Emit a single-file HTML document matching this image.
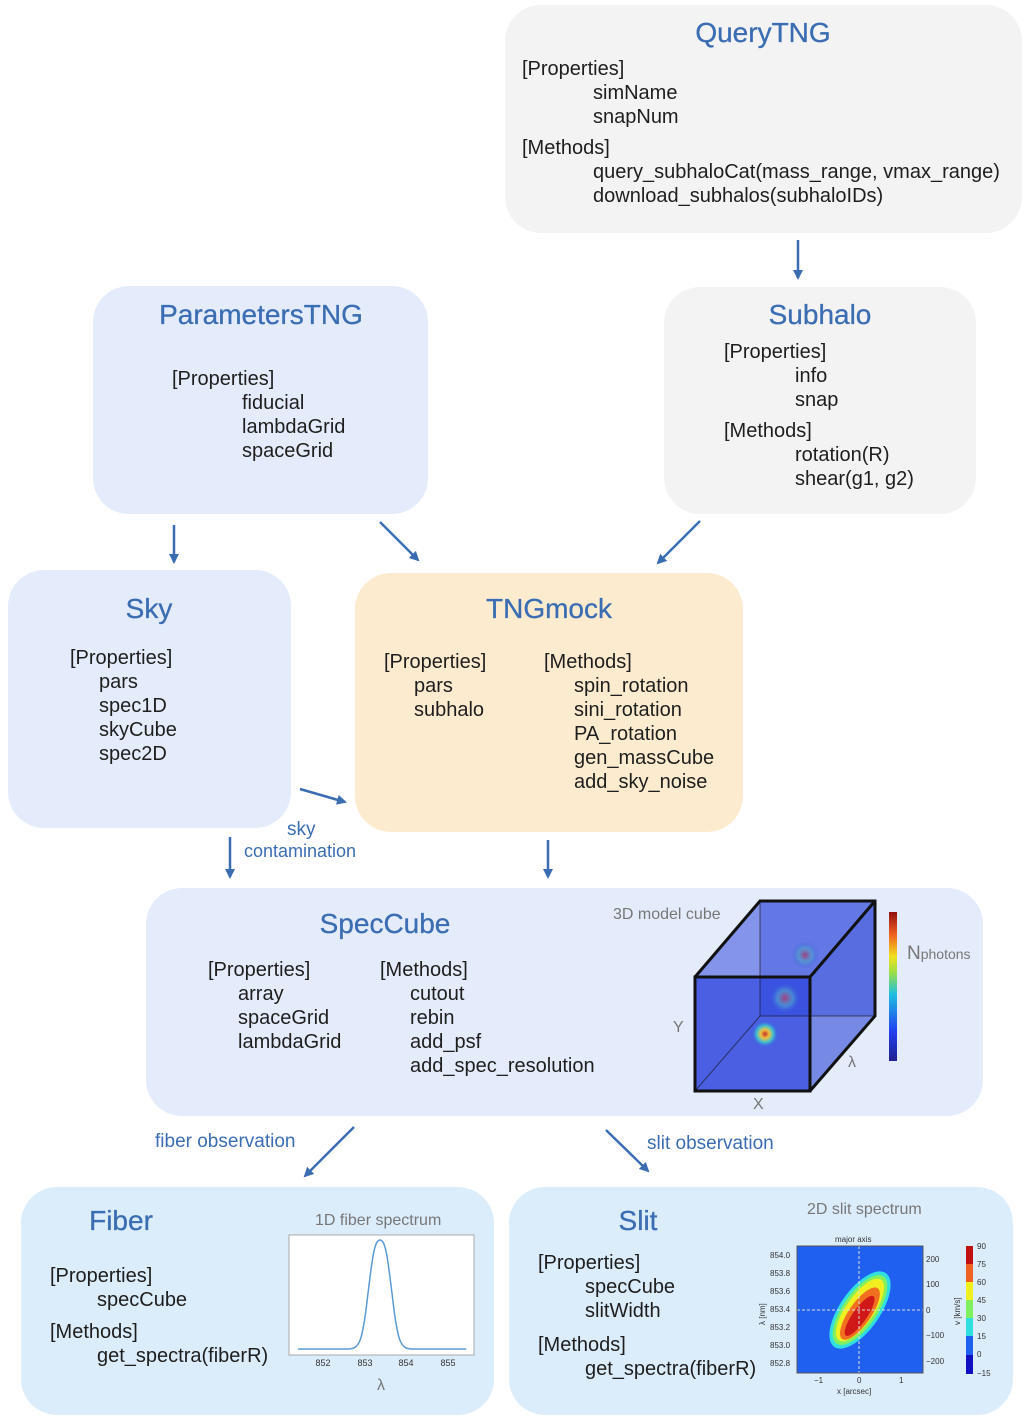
<!DOCTYPE html>
<html><head><meta charset="utf-8"><style>
body{margin:0;width:1027px;height:1421px;background:#fff;position:relative;font-family:"Liberation Sans",sans-serif;overflow:hidden}
.b{position:absolute;border-radius:36px}
.g{background:#f3f3f3}.bl{background:#e4ecfb}.o{background:#fdebcf}.c{background:#dbecfb}
.t{position:absolute;color:#3b6db3;font-size:28px;white-space:nowrap;transform:translateX(-50%);-webkit-text-stroke:0.3px #3b6db3}
.x{position:absolute;color:#1e1e1e;font-size:20px;line-height:24px;white-space:pre}
.l{position:absolute;color:#3b6db3;font-size:19px;white-space:nowrap}
.gy{position:absolute;color:#777;font-size:16px;white-space:nowrap}
svg{position:absolute;left:0;top:0}
</style></head><body>
<div class="b g" style="left:505px;top:5px;width:517px;height:228px"></div>
<div class="b bl" style="left:93px;top:286px;width:335px;height:228px"></div>
<div class="b g" style="left:664px;top:287px;width:312px;height:227px"></div>
<div class="b bl" style="left:8px;top:570px;width:283px;height:258px"></div>
<div class="b o" style="left:355px;top:573px;width:388px;height:259px"></div>
<div class="b bl" style="left:146px;top:888px;width:837px;height:228px"></div>
<div class="b c" style="left:21px;top:1187px;width:473px;height:228px"></div>
<div class="b c" style="left:509px;top:1187px;width:504px;height:228px"></div>

<div class="t" style="left:763px;top:17px">QueryTNG</div>
<div class="x" style="left:522px;top:57px">[Properties]</div>
<div class="x" style="left:593px;top:81px">simName
snapNum</div>
<div class="x" style="left:522px;top:136px">[Methods]</div>
<div class="x" style="left:593px;top:160px">query_subhaloCat(mass_range, vmax_range)
download_subhalos(subhaloIDs)</div>

<div class="t" style="left:261px;top:299px">ParametersTNG</div>
<div class="x" style="left:172px;top:367px">[Properties]</div>
<div class="x" style="left:242px;top:391px">fiducial
lambdaGrid
spaceGrid</div>

<div class="t" style="left:820px;top:299px">Subhalo</div>
<div class="x" style="left:724px;top:340px">[Properties]</div>
<div class="x" style="left:795px;top:364px">info
snap</div>
<div class="x" style="left:724px;top:419px">[Methods]</div>
<div class="x" style="left:795px;top:443px">rotation(R)
shear(g1, g2)</div>

<div class="t" style="left:149px;top:593px">Sky</div>
<div class="x" style="left:70px;top:646px">[Properties]</div>
<div class="x" style="left:99px;top:670px">pars
spec1D
skyCube
spec2D</div>

<div class="t" style="left:549px;top:593px">TNGmock</div>
<div class="x" style="left:384px;top:650px">[Properties]</div>
<div class="x" style="left:414px;top:674px">pars
subhalo</div>
<div class="x" style="left:544px;top:650px">[Methods]</div>
<div class="x" style="left:574px;top:674px">spin_rotation
sini_rotation
PA_rotation
gen_massCube
add_sky_noise</div>

<div class="l" style="left:287px;top:819px">sky</div>
<div class="l" style="left:244px;top:841px;font-size:18px">contamination</div>

<div class="t" style="left:385px;top:908px">SpecCube</div>
<div class="x" style="left:208px;top:958px">[Properties]</div>
<div class="x" style="left:238px;top:982px">array
spaceGrid
lambdaGrid</div>
<div class="x" style="left:380px;top:958px">[Methods]</div>
<div class="x" style="left:410px;top:982px">cutout
rebin
add_psf
add_spec_resolution</div>
<div class="gy" style="left:613px;top:906px">3D model cube</div>
<div class="gy" style="left:673px;top:1019px">Y</div>
<div class="gy" style="left:753px;top:1096px">X</div>
<div class="gy" style="left:848px;top:1054px">λ</div>
<div class="gy" style="left:907px;top:943px;font-size:19px">N<span style="font-size:14px">photons</span></div>

<div class="l" style="left:155px;top:1131px">fiber observation</div>
<div class="l" style="left:647px;top:1133px">slit observation</div>

<div class="t" style="left:121px;top:1205px">Fiber</div>
<div class="x" style="left:50px;top:1264px">[Properties]</div>
<div class="x" style="left:97px;top:1288px">specCube</div>
<div class="x" style="left:50px;top:1320px">[Methods]</div>
<div class="x" style="left:97px;top:1344px">get_spectra(fiberR)</div>
<div class="gy" style="left:315px;top:1212px">1D fiber spectrum</div>
<div class="gy" style="left:377px;top:1377px">λ</div>

<div class="t" style="left:638px;top:1205px">Slit</div>
<div class="x" style="left:538px;top:1251px">[Properties]</div>
<div class="x" style="left:585px;top:1275px">specCube
slitWidth</div>
<div class="x" style="left:538px;top:1333px">[Methods]</div>
<div class="x" style="left:585px;top:1357px">get_spectra(fiberR)</div>
<div class="gy" style="left:807px;top:1201px">2D slit spectrum</div>

<svg width="1027" height="1421" viewBox="0 0 1027 1421">
<defs>
<marker id="a" markerWidth="10" markerHeight="10" refX="8" refY="5" orient="auto" markerUnits="userSpaceOnUse"><path d="M0,0 L10,5 L0,10 z" fill="#3b6db3"/></marker>
<radialGradient id="s1"><stop offset="0" stop-color="#c03030"/><stop offset="0.3" stop-color="#f0c040"/><stop offset="0.6" stop-color="#40c0d0"/><stop offset="1" stop-color="#3050e0" stop-opacity="0"/></radialGradient>
<radialGradient id="s2"><stop offset="0" stop-color="#a04080"/><stop offset="0.5" stop-color="#50a0d0" stop-opacity="0.7"/><stop offset="1" stop-color="#3050e0" stop-opacity="0"/></radialGradient>
<linearGradient id="cb" x1="0" y1="1" x2="0" y2="0"><stop offset="0" stop-color="#202090"/><stop offset="0.2" stop-color="#2040f0"/><stop offset="0.45" stop-color="#20c0e0"/><stop offset="0.6" stop-color="#a0e040"/><stop offset="0.7" stop-color="#f0e020"/><stop offset="0.85" stop-color="#f06020"/><stop offset="1" stop-color="#901010"/></linearGradient>
</defs>
<g stroke="#3b6db3" stroke-width="2.5" marker-end="url(#a)">
<line x1="798" y1="240" x2="798" y2="278"/>
<line x1="174" y1="525" x2="174" y2="562"/>
<line x1="380" y1="522" x2="418" y2="560"/>
<line x1="700" y1="521" x2="658" y2="563"/>
<line x1="300" y1="789" x2="345" y2="802"/>
<line x1="230" y1="837" x2="230" y2="877"/>
<line x1="548" y1="840" x2="548" y2="877"/>
<line x1="354" y1="1127" x2="305" y2="1176"/>
<line x1="606" y1="1130" x2="648" y2="1171"/>
</g>
<polygon points="760,901 875,901 875,1016 760,1016" fill="#3046d8" opacity="0.85"/>
<polygon points="695,977 760,901 875,901 810,977" fill="#6a7ee6" opacity="0.8"/>
<polygon points="810,977 875,901 875,1016 810,1091" fill="#5a70e0" opacity="0.8"/>
<polygon points="695,977 810,977 810,1091 695,1091" fill="#3a50e0" opacity="0.9"/>
<circle cx="805" cy="955" r="14" fill="url(#s2)"/>
<circle cx="785" cy="998" r="16" fill="url(#s2)"/>
<circle cx="765" cy="1034" r="14" fill="url(#s1)"/>
<g fill="none" stroke="#111" stroke-width="3">
<polygon points="695,977 810,977 810,1091 695,1091"/>
<polyline points="695,977 760,901 875,901 875,1016 810,1091"/>
<line x1="810" y1="977" x2="875" y2="901"/>
</g>
<g stroke="#111" stroke-width="1" opacity="0.6" fill="none"><line x1="760" y1="901" x2="760" y2="1016"/><line x1="760" y1="1016" x2="875" y2="1016"/><line x1="760" y1="1016" x2="695" y2="1091"/></g>
<rect x="889" y="912" width="8" height="149" fill="url(#cb)"/>
<rect x="289" y="1235" width="185" height="120" fill="#fff" stroke="#aaa"/>
<path d="M298,1349 L348,1349 C360,1349 362,1339 366,1310 C372,1260 374,1240 380,1240 C386,1240 388,1260 394,1310 C398,1339 400,1349 412,1349 L466,1349" fill="none" stroke="#5b9bd5" stroke-width="1.5"/>
<g font-family="Liberation Sans" font-size="9" fill="#333" text-anchor="middle"><text x="323" y="1366">852</text><text x="365" y="1366">853</text><text x="406" y="1366">854</text><text x="448" y="1366">855</text></g>
<rect x="797" y="1246" width="126" height="127" fill="#2060f0"/>
<g transform="rotate(-55 860 1310)">
<ellipse cx="860" cy="1310" rx="45" ry="20" fill="#30e0e0"/>
<ellipse cx="860" cy="1310" rx="41" ry="17" fill="#80f060"/>
<ellipse cx="860" cy="1310" rx="37" ry="14" fill="#f0f020"/>
<ellipse cx="857" cy="1312" rx="31" ry="11" fill="#f07020"/>
<ellipse cx="855" cy="1313" rx="24" ry="7" fill="#d01818"/>
</g>
<g stroke="#ddd" stroke-dasharray="3,2" stroke-width="1"><line x1="797" y1="1310" x2="923" y2="1310"/><line x1="859" y1="1246" x2="859" y2="1373"/></g>
<rect x="797" y="1246" width="126" height="127" fill="none" stroke="#555"/>
<g font-family="Liberation Sans" font-size="8" fill="#333"><text x="835" y="1242">major axis</text>
<text x="770" y="1258">854.0</text><text x="770" y="1276">853.8</text><text x="770" y="1294">853.6</text><text x="770" y="1312">853.4</text><text x="770" y="1330">853.2</text><text x="770" y="1348">853.0</text><text x="770" y="1366">852.8</text>
<text x="926" y="1262">200</text><text x="926" y="1287">100</text><text x="926" y="1313">0</text><text x="926" y="1338">−100</text><text x="926" y="1364">−200</text>
<text x="814" y="1383">−1</text><text x="857" y="1383">0</text><text x="899" y="1383">1</text><text x="837" y="1394">x [arcsec]</text>
<text x="977" y="1249">90</text><text x="977" y="1267">75</text><text x="977" y="1285">60</text><text x="977" y="1303">45</text><text x="977" y="1321">30</text><text x="977" y="1339">15</text><text x="977" y="1357">0</text><text x="977" y="1376">−15</text>
<text transform="translate(765 1325) rotate(-90)">λ [nm]</text><text transform="translate(960 1325) rotate(-90)">v [km/s]</text></g>
<g><rect x="966" y="1246" width="7" height="18" fill="#c01010"/><rect x="966" y="1264" width="7" height="18" fill="#f06020"/><rect x="966" y="1282" width="7" height="18" fill="#f0f020"/><rect x="966" y="1300" width="7" height="18" fill="#80f060"/><rect x="966" y="1318" width="7" height="18" fill="#30e0e0"/><rect x="966" y="1336" width="7" height="19" fill="#2060f0"/><rect x="966" y="1355" width="7" height="19" fill="#1010c0"/></g>
</svg>
</body></html>
